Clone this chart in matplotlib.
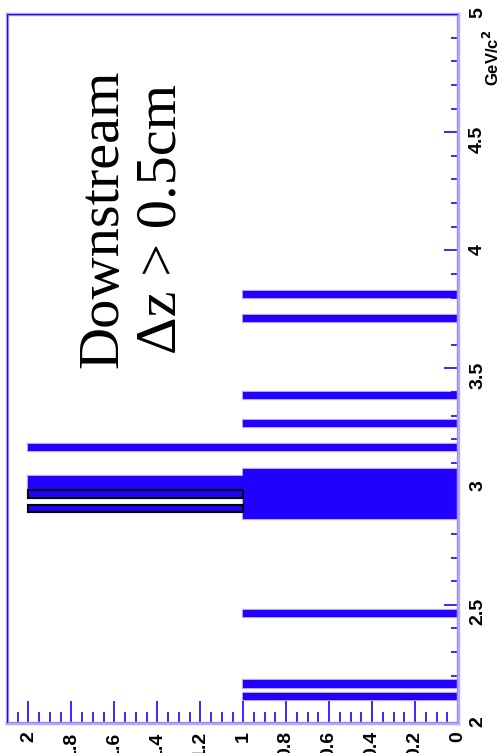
import matplotlib
matplotlib.use("Agg")
import matplotlib.pyplot as plt
from matplotlib.ticker import MultipleLocator
from matplotlib.patches import Rectangle

# mass bins (GeV/c^2) and entries
mass = [2.113, 2.165, 2.462, 2.879, 2.909, 2.939, 2.969, 2.999, 3.029, 3.059,
        3.165, 3.267, 3.386, 3.712, 3.814]
counts = [1, 1, 1, 1, 2, 1, 2, 2, 2, 1, 2, 1, 1, 1, 1]
# bins whose upper part is drawn with a black outline
outlined_mass = [2.909, 2.969]
outlined_counts = [2, 2]

mass_ticks = [2, 2.5, 3, 3.5, 4, 4.5, 5]
count_ticks = [0, 0.2, 0.4, 0.6, 0.8, 1, 1.2, 1.4, 1.6, 1.8, 2]
count_labels = ["0", "0.2", "0.4", "0.6", "0.8", "1", "1.2", "1.4", "1.6", "1.8", "2"]

blue = "#2200ff"
halo = "#b4aaf5"

fig = plt.figure(figsize=(4.98, 7.53), dpi=100)
ax = fig.add_axes([7 / 498, 30 / 753, 451 / 498, 709 / 753])

# halo first, then solid fill on top so adjacent bins merge
ax.barh(mass, counts, height=0.03, left=0, color=halo, edgecolor=halo, linewidth=1.6)
ax.barh(mass, counts, height=0.03, left=0, color=blue, linewidth=0)
ax.barh(outlined_mass, [c - 1 for c in outlined_counts], height=0.03, left=1,
        color=blue, edgecolor="black", linewidth=1.5)

ax.set_xlim(2.1, 0)
ax.set_ylim(2, 5)

# frame
for side in ["left", "right", "top", "bottom"]:
    ax.spines[side].set_color(halo)
    ax.spines[side].set_linewidth(2.5)
ax.add_patch(Rectangle((0, 0), 1, 1, transform=ax.transAxes, fill=False,
                       edgecolor=blue, linewidth=1, zorder=5))

# mass axis on the right
ax.yaxis.tick_right()
ax.set_yticks(mass_ticks)
ax.set_yticklabels([f"{m:g}" for m in mass_ticks])
ax.yaxis.set_minor_locator(MultipleLocator(0.1))
ax.tick_params(axis="y", which="major", direction="in", length=10, width=1.2,
               color=blue, pad=8, labelsize=14, labelrotation=90)
ax.tick_params(axis="y", which="minor", direction="in", length=5, width=1.2, color=blue)

# entries axis on the bottom
ax.set_xticks(count_ticks)
ax.set_xticklabels(count_labels)
ax.xaxis.set_minor_locator(MultipleLocator(0.05))
ax.tick_params(axis="x", which="major", direction="in", length=16, width=1.2,
               color=blue, pad=6, labelsize=14, labelrotation=90)
ax.tick_params(axis="x", which="minor", direction="in", length=8, width=1.2, color=blue)

for lab in ax.get_xticklabels() + ax.get_yticklabels():
    lab.set_fontfamily("Liberation Sans")
    lab.set_fontweight("bold")
for lab in ax.get_xticklabels():
    lab.set_va("top")

fig.text(492 / 498, 1 - 30 / 753, r"GeV/c$^{\mathbf{2}}$", rotation=90,
         ha="center", va="top", fontsize=12, fontweight="bold",
         fontfamily="Liberation Sans")

ax.text(1.65, 3.50, "Downstream", rotation=90, ha="center", va="bottom",
        fontsize=42, fontfamily="Liberation Serif")
ax.text(1.38, 3.56, "\u0394z > 0.5cm", rotation=90, ha="center", va="bottom",
        fontsize=42, fontfamily="Liberation Serif")

fig.savefig("out.png", dpi=100)
